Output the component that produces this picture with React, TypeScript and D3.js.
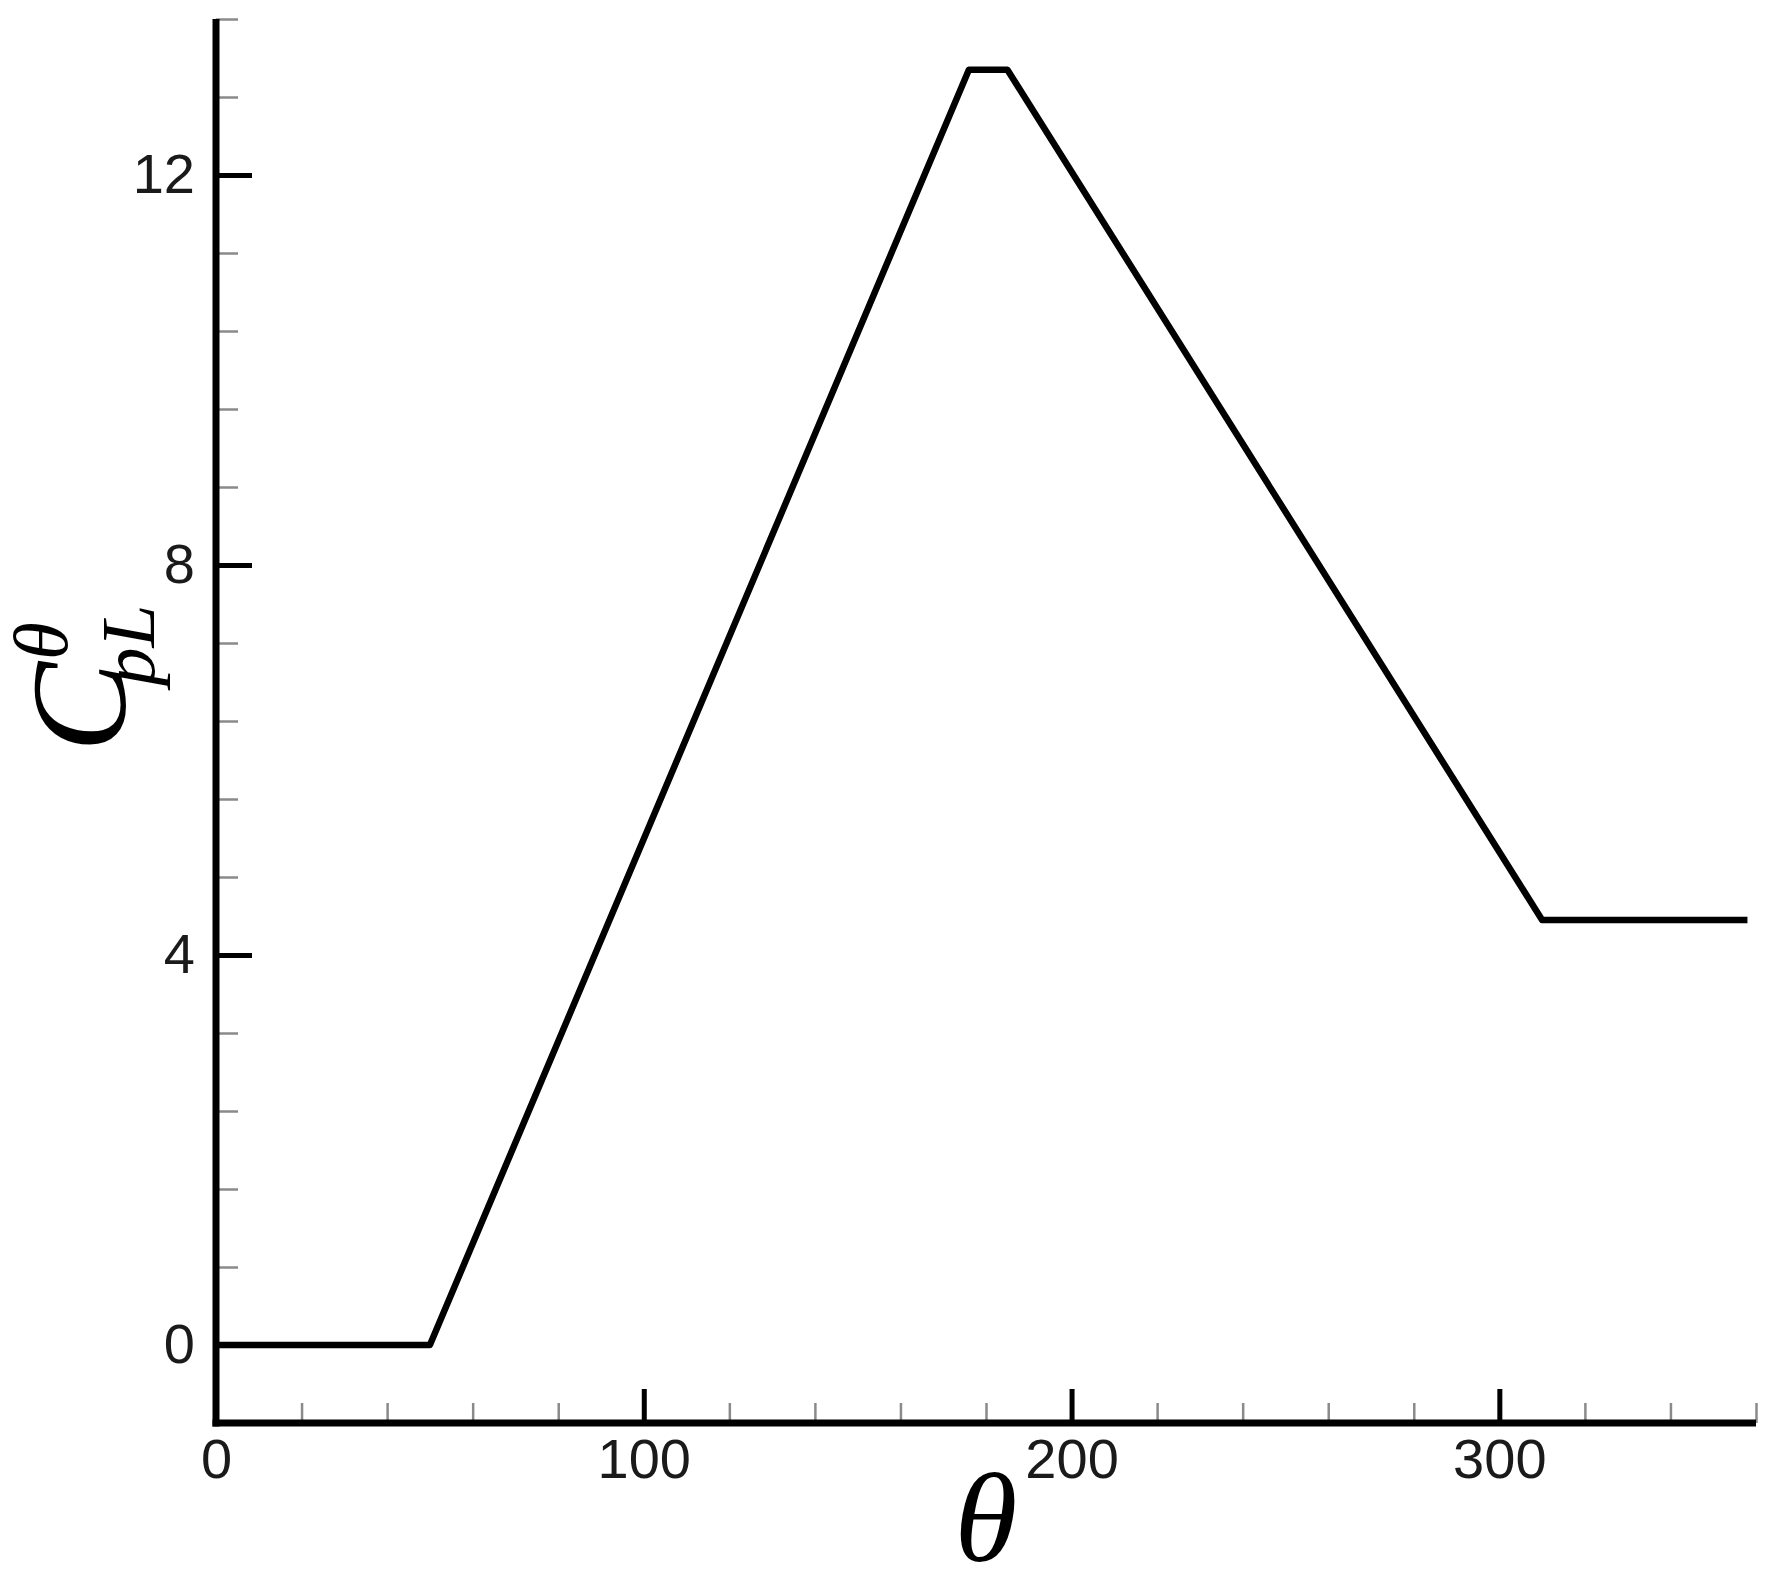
import { useEffect, useRef } from "react";
import * as d3 from "d3";

// curve samples
const thetaDeg = [0, 50, 176, 185, 310, 358];
const cplValues = [0, 0, 13.08, 13.08, 4.36, 4.36];

const xMajorTicks = [0, 100, 200, 300];
const xMinorTicks = [20, 40, 60, 80, 120, 140, 160, 180, 220, 240, 260, 280, 320, 340, 360];
const yMajorTicks = [0, 4, 8, 12];
const yMinorTicks = [0.8, 1.6, 2.4, 3.2, 4.8, 5.6, 6.4, 7.2, 8.8, 9.6, 10.4, 11.2, 12.8, 13.6];

const xDomain = [0, 360];
const yDomain = [-0.8, 13.6];

function CplChart() {
  const ref = useRef<HTMLDivElement>(null);

  useEffect(() => {
    const container = d3.select(ref.current);
    container.selectAll("*").remove();

    const width = 1782;
    const height = 1579;
    const plot = { left: 216, right: 1756, top: 19, bottom: 1423 };

    const svg = container
      .append("svg")
      .attr("width", width)
      .attr("height", height)
      .style("position", "absolute")
      .style("left", "0px")
      .style("top", "0px")
      .style("background", "#fff");

    const x = d3.scaleLinear().domain(xDomain).range([plot.left, plot.right]);
    const y = d3.scaleLinear().domain(yDomain).range([plot.bottom, plot.top]);

    const sans = "'Liberation Sans', Arial, sans-serif";
    const serif = "'Liberation Serif', 'Times New Roman', serif";

    // minor ticks
    const yMinor = svg
      .append("g")
      .attr("transform", `translate(${plot.left},0)`)
      .call(d3.axisLeft(y).tickValues(yMinorTicks).tickSize(-22).tickFormat(() => ""));
    yMinor.select(".domain").remove();
    yMinor.selectAll("line").attr("stroke", "#8a8a8a").attr("stroke-width", 2.5);

    const xMinor = svg
      .append("g")
      .attr("transform", `translate(0,${plot.bottom})`)
      .call(d3.axisBottom(x).tickValues(xMinorTicks).tickSize(-20).tickFormat(() => ""));
    xMinor.select(".domain").remove();
    xMinor.selectAll("line").attr("stroke", "#8a8a8a").attr("stroke-width", 2.5);

    // major ticks + labels
    const yAxis = svg
      .append("g")
      .attr("transform", `translate(${plot.left},0)`)
      .call(d3.axisLeft(y).tickValues(yMajorTicks).tickSize(-36).tickPadding(21));
    yAxis.select(".domain").remove();
    yAxis.selectAll("line").attr("stroke", "#000").attr("stroke-width", 5);
    yAxis
      .selectAll("text")
      .attr("fill", "#1a1a1a")
      .style("font-family", sans)
      .style("font-size", "56px");

    const xAxis = svg
      .append("g")
      .attr("transform", `translate(0,${plot.bottom})`)
      .call(d3.axisBottom(x).tickValues(xMajorTicks).tickSize(-34).tickPadding(15));
    xAxis.select(".domain").remove();
    xAxis.selectAll("line").attr("stroke", "#000").attr("stroke-width", 5);
    xAxis
      .selectAll("text")
      .attr("fill", "#1a1a1a")
      .style("font-family", sans)
      .style("font-size", "56px");

    // axis lines
    svg
      .append("line")
      .attr("x1", plot.left)
      .attr("x2", plot.left)
      .attr("y1", plot.top)
      .attr("y2", plot.bottom + 3.5)
      .attr("stroke", "#000")
      .attr("stroke-width", 7);
    svg
      .append("line")
      .attr("x1", plot.left - 3.5)
      .attr("x2", plot.right)
      .attr("y1", plot.bottom)
      .attr("y2", plot.bottom)
      .attr("stroke", "#000")
      .attr("stroke-width", 7);

    // curve
    const pts: [number, number][] = thetaDeg.map((t, i) => [t, cplValues[i]]);
    const line = d3
      .line<[number, number]>()
      .x((d) => x(d[0]))
      .y((d) => y(d[1]));
    svg
      .append("path")
      .datum(pts)
      .attr("fill", "none")
      .attr("stroke", "#000")
      .attr("stroke-width", 6.5)
      .attr("stroke-linejoin", "round")
      .attr("d", line);

    // x title
    svg
      .append("text")
      .attr("x", 986)
      .attr("y", 1561)
      .attr("text-anchor", "middle")
      .style("font-family", serif)
      .style("font-style", "italic")
      .style("font-size", "128px")
      .attr("fill", "#000")
      .text("θ");

    // y title: C_{pL}^θ, rotated
    const yt = svg.append("g").attr("transform", "translate(125,752) rotate(-90)");
    const titleText = (tx: number, ty: number, size: number, s: string) =>
      yt
        .append("text")
        .attr("x", tx)
        .attr("y", ty)
        .style("font-family", serif)
        .style("font-style", "italic")
        .style("font-size", `${size}px`)
        .attr("fill", "#000")
        .text(s);
    titleText(0, 0, 135, "C");
    titleText(92, -58, 77, "θ");
    titleText(66, 29, 77, "pL");
  }, []);

  return <div ref={ref} />;
}

export default function App() {
  return <CplChart />;
}
